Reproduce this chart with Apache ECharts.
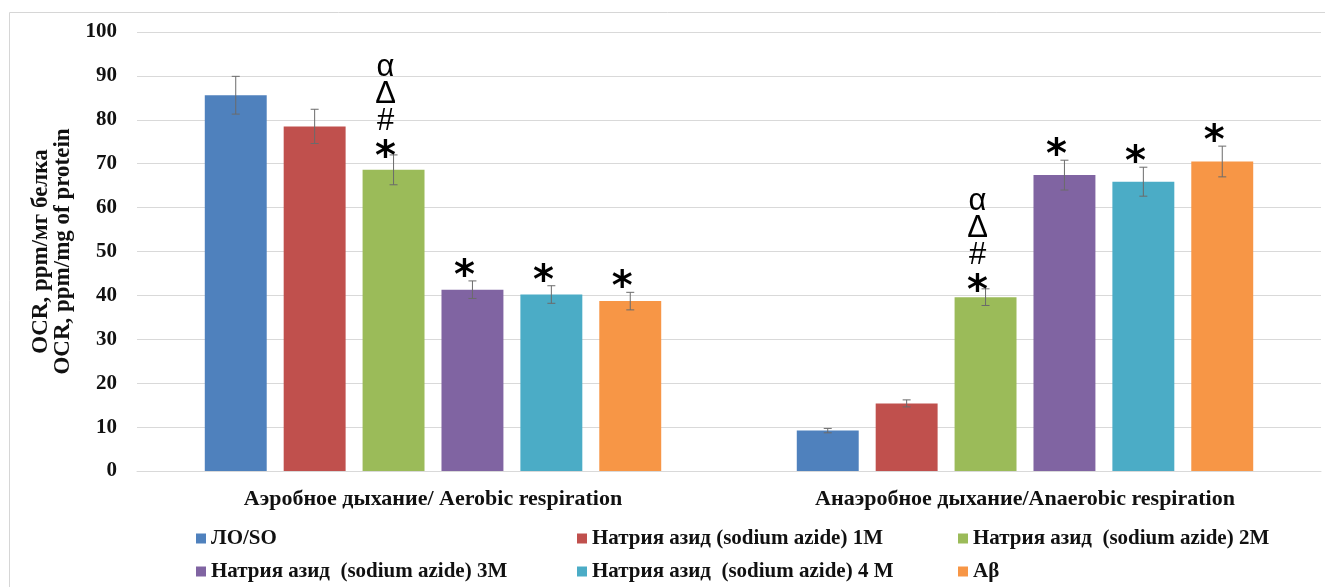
<!DOCTYPE html>
<html>
<head>
<meta charset="utf-8">
<script src="https://cdn.jsdelivr.net/npm/echarts@6/dist/echarts.min.js"></script>
<style>
  html, body { margin: 0; padding: 0; background: #ffffff; }
  #chart { width: 1325px; height: 587px; }
</style>
</head>
<body>
<div id="chart"></div>
<script>
// Respiration groups on the category axis
const categories = ['Аэробное дыхание/ Aerobic respiration', 'Анаэробное дыхание/Anaerobic respiration'];

// Experimental groups (legend order)
const seriesNames = [
  'ЛО/SO',
  'Натрия азид (sodium azide) 1M',
  'Натрия азид  (sodium azide) 2M',
  'Натрия азид  (sodium azide) 3M',
  'Натрия азид  (sodium azide) 4 M',
  'Aβ'
];

// Mean OCR, ppm/mg of protein: [aerobic, anaerobic]
const meanSO = [85.6, 9.2];
const mean1M = [78.5, 15.4];
const mean2M = [68.6, 39.6];
const mean3M = [41.3, 67.4];
const mean4M = [40.2, 65.9];
const meanAb = [38.7, 70.5];

// Error (±) for each mean
const errSO = [4.3, 0.5];
const err1M = [3.9, 0.8];
const err2M = [3.4, 1.9];
const err3M = [2.0, 3.4];
const err4M = [2.0, 3.3];
const errAb = [2.0, 3.5];

// Significance marks above each bar (bottom line is nearest the bar)
const markSO = ['', ''];
const mark1M = ['', ''];
const mark2M = ['α\nΔ\n#\n*', 'α\nΔ\n#\n*'];
const mark3M = ['*', '*'];
const mark4M = ['*', '*'];
const markAb = ['*', '*'];

const means = [meanSO, mean1M, mean2M, mean3M, mean4M, meanAb];
const errs = [errSO, err1M, err2M, err3M, err4M, errAb];
const marks = [markSO, mark1M, mark2M, mark3M, mark4M, markAb];

const colors = ['#4F81BD', '#C0504D', '#9BBB59', '#8064A2', '#4BACC6', '#F79646'];

const CAT_GAP = 0.229;   // barCategoryGap as a fraction
const BAR_GAP = 0.274;   // barGap as a fraction of bar width
const N = seriesNames.length;
const SERIF = '"Liberation Serif", "Times New Roman", serif';

// Draws the error bar for one group plus any significance marks above it
function errorRenderer(sIdx) {
  return function (params, api) {
    const cat = api.value(0);
    const mean = api.value(1);
    const err = api.value(2);
    const band = api.size([1, 0])[0];
    const usable = band * (1 - CAT_GAP);
    const barW = usable / (N + (N - 1) * BAR_GAP);
    const c0 = api.coord([cat, 0])[0];
    const cx = c0 - usable / 2 + sIdx * barW * (1 + BAR_GAP) + barW / 2;
    const yHi = api.coord([cat, mean + err])[1];
    const yLo = api.coord([cat, mean - err])[1];
    const cap = 4;
    const lineStyle = { stroke: '#6b6b6b', lineWidth: 1 };
    const children = [
      { type: 'line', shape: { x1: cx, y1: yHi, x2: cx, y2: yLo }, style: lineStyle },
      { type: 'line', shape: { x1: cx - cap, y1: yHi, x2: cx + cap, y2: yHi }, style: lineStyle },
      { type: 'line', shape: { x1: cx - cap, y1: yLo, x2: cx + cap, y2: yLo }, style: lineStyle }
    ];
    const mark = marks[sIdx][params.dataIndex];
    if (mark) {
      const lines = mark.split('\n');
      const gap = lines.length > 1 ? 6 : 13;
      const pitch = 27;
      for (let k = 0; k < lines.length; k++) {
        const ch = lines[lines.length - 1 - k];
        const isStar = ch === '*';
        const fs = isStar ? 40 : 31;
        const yc = yHi - gap - k * pitch + (isStar ? 0.24 * fs : 0);
        children.push({
          type: 'text',
          style: {
            text: ch,
            x: cx - 8,
            y: yc,
            fontSize: fs,
            fontFamily: isStar ? '"DejaVu Sans", sans-serif' : '"Liberation Sans", Arial, sans-serif',
            fontWeight: isStar ? 'bold' : 'normal',
            fill: '#000000',
            align: 'center',
            verticalAlign: 'middle'
          }
        });
      }
    }
    return { type: 'group', children: children };
  };
}

const barSeries = seriesNames.map(function (name, i) {
  return {
    name: name,
    type: 'bar',
    data: means[i],
    barCategoryGap: (CAT_GAP * 100) + '%',
    barGap: (BAR_GAP * 100) + '%',
    itemStyle: { color: colors[i] },
    z: 2
  };
});

const errSeries = seriesNames.map(function (name, i) {
  return {
    type: 'custom',
    name: name + ' err',
    renderItem: errorRenderer(i),
    data: categories.map(function (c, j) { return [j, means[i][j], errs[i][j]]; }),
    encode: { x: 0, y: 1 },
    z: 5,
    silent: true
  };
});

// One legend block per entry, laid out in a 3-column, 2-row grid
const legendCols = [196, 577, 958];
const legendRows = [528, 561];
const legends = seriesNames.map(function (name, i) {
  return {
    data: [{ name: name, icon: 'rect' }],
    left: legendCols[i % 3],
    top: legendRows[Math.floor(i / 3)],
    padding: 0,
    itemWidth: 10,
    itemHeight: 10,
    itemGap: 0,
    selectedMode: false,
    textStyle: { fontFamily: SERIF, fontWeight: 'bold', fontSize: 21, color: '#111111' }
  };
});

const chart = echarts.init(document.getElementById('chart'), null, { renderer: 'canvas' });
chart.setOption({
  backgroundColor: '#ffffff',
  animation: false,
  color: colors,
  grid: { left: 137, right: 4, top: 32, bottom: 116, containLabel: false },
  graphic: [{
    type: 'rect',
    shape: { x: 9.5, y: 12.5, width: 1400, height: 700 },
    style: { fill: 'none', stroke: '#d6d6d6', lineWidth: 1 },
    silent: true
  }],
  legend: legends,
  xAxis: {
    type: 'category',
    data: categories,
    axisTick: { show: false },
    axisLine: { lineStyle: { color: '#d9d9d9', width: 1 } },
    axisLabel: { fontFamily: SERIF, fontWeight: 'bold', fontSize: 22, color: '#111111', margin: 17 }
  },
  yAxis: {
    type: 'value',
    min: 0,
    max: 100,
    interval: 10,
    name: 'OCR, ppm/мг белка\nOCR, ppm/mg of protein',
    nameLocation: 'middle',
    nameGap: 48,
    nameTextStyle: { fontFamily: SERIF, fontWeight: 'bold', fontSize: 23, color: '#111111', lineHeight: 22 },
    axisLine: { show: false },
    axisTick: { show: false },
    splitLine: { lineStyle: { color: '#d9d9d9', width: 1 } },
    axisLabel: { fontFamily: SERIF, fontWeight: 'bold', fontSize: 21, color: '#111111', margin: 20 }
  },
  series: barSeries.concat(errSeries)
});
</script>
</body>
</html>
